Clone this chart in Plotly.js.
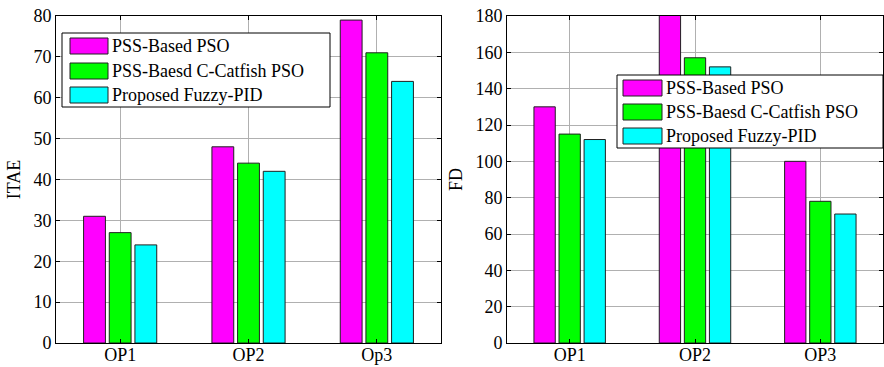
<!DOCTYPE html>
<html>
<head>
<meta charset="utf-8">
<script src="https://cdn.plot.ly/plotly-3.0.1.min.js"></script>
<style>html,body{margin:0;padding:0;background:#fff;}#chart{width:884px;height:367px;}</style>
</head>
<body>
<div id="chart"></div>
<script>
const catsLeft = ["OP1", "OP2", "Op3"];
const catsRight = ["OP1", "OP2", "OP3"];
const seriesNames = ["PSS-Based PSO", "PSS-Baesd C-Catfish PSO", "Proposed Fuzzy-PID"];
const seriesColors = ["#ff00ff", "#00ff00", "#00ffff"];
const itaePSO = [31, 48, 79];
const itaeCatfish = [27, 44, 71];
const itaeFuzzy = [24, 42, 64];
const fdPSO = [130, 182, 100];
const fdCatfish = [115, 157, 78];
const fdFuzzy = [112, 152, 71];

const leftVals = [itaePSO, itaeCatfish, itaeFuzzy];
const rightVals = [fdPSO, fdCatfish, fdFuzzy];

const traces = [];
for (let i = 0; i < 3; i++) {
  traces.push({type: "bar", x: catsLeft, y: leftVals[i], name: seriesNames[i], xaxis: "x", yaxis: "y",
    marker: {color: seriesColors[i], line: {color: "#202020", width: 1}}, showlegend: false});
}
for (let i = 0; i < 3; i++) {
  traces.push({type: "bar", x: catsRight, y: rightVals[i], name: seriesNames[i], xaxis: "x2", yaxis: "y2",
    marker: {color: seriesColors[i], line: {color: "#202020", width: 1}}, showlegend: false});
}

const W = 884, H = 367;
const px = v => v / W, py = v => 1 - v / H;
const font = {family: "'Liberation Serif', 'Times New Roman', serif", size: 18, color: "#000"};

function axisX(domain, anchor) {
  return {domain: domain, anchor: anchor, range: [-0.5, 2.5], type: "category",
    showline: true, linecolor: "#000", linewidth: 1, mirror: "ticks",
    ticks: "inside", ticklen: 4, tickcolor: "#000", showgrid: true, gridcolor: "#b0b0b0", gridwidth: 1,
    tickfont: font, zeroline: false, fixedrange: true, ticklabelstandoff: -5};
}
function axisY(domain, anchor, range, dtick, title) {
  return {domain: domain, anchor: anchor, range: range, dtick: dtick,
    showline: true, linecolor: "#000", linewidth: 1, mirror: "ticks",
    ticks: "inside", ticklen: 4, tickcolor: "#000", showgrid: true, gridcolor: "#b0b0b0", gridwidth: 1,
    tickfont: font, zeroline: false, title: {text: title, font: font, standoff: 8}};
}

const yDom = [1 - 343 / H, 1 - 16 / H];

const shapes = [];
const annotations = [];
function legend(box, swX, textX, rowsY) {
  shapes.push({type: "rect", xref: "paper", yref: "paper", x0: px(box[0]), x1: px(box[1]), y0: py(box[2]), y1: py(box[3]),
    line: {color: "#000", width: 1}, fillcolor: "#fff", layer: "above"});
  for (let i = 0; i < 3; i++) {
    shapes.push({type: "rect", xref: "paper", yref: "paper", x0: px(swX[0]), x1: px(swX[1]),
      y0: py(rowsY[i] + 8), y1: py(rowsY[i] - 8), line: {color: "#202020", width: 1}, fillcolor: seriesColors[i], layer: "above"});
    annotations.push({xref: "paper", yref: "paper", x: px(textX), y: py(rowsY[i]), xanchor: "left", yanchor: "middle",
      text: seriesNames[i], showarrow: false, font: font});
  }
}
legend([62, 330, 33, 107], [70, 108], 110, [46, 71, 95]);
legend([617, 883, 75, 148], [623, 662], 664, [88, 112, 136]);

const layout = {
  width: W, height: H, margin: {l: 0, r: 0, t: 0, b: 0},
  paper_bgcolor: "#fff", plot_bgcolor: "#fff",
  barmode: "group", bargap: 0.4, bargroupgap: 0.15,
  font: font,
  xaxis: axisX([56 / W, 441 / W], "y"),
  yaxis: axisY(yDom, "x", [0, 80], 10, "ITAE"),
  xaxis2: axisX([507 / W, 883 / W], "y2"),
  yaxis2: axisY(yDom, "x2", [0, 180], 20, "FD"),
  shapes: shapes, annotations: annotations, showlegend: false
};
Plotly.newPlot("chart", traces, layout, {displayModeBar: false, staticPlot: true});
</script>
</body>
</html>
